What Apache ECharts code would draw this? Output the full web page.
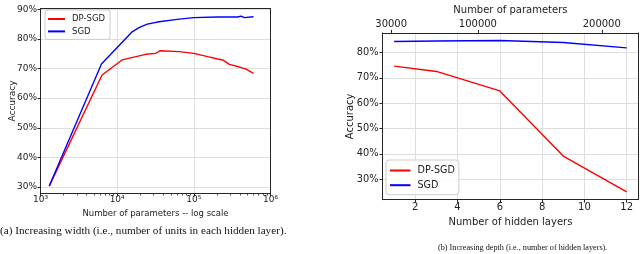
<!DOCTYPE html>
<html><head><meta charset="utf-8">
<script src="https://cdn.jsdelivr.net/npm/echarts@6/dist/echarts.min.js"></script>
<style>html,body{margin:0;padding:0;background:#fff}#c{width:640px;height:254px}</style>
</head><body><div id="c"></div>
<script>
// ---- data: (a) increasing width ----
const widthSgdParams = [1300, 6240, 15700, 19200, 24700, 35200, 64500, 100000, 200000, 372000, 414000, 457000, 600000];
const widthSgdAcc    = [30.3, 71.5, 82.4, 83.8, 85.0, 85.8, 86.7, 87.2, 87.4, 87.4, 87.7, 87.2, 87.5];
const widthDpParams  = [1300, 6350, 11600, 23500, 31700, 36000, 64500, 100000, 151000, 205000, 238000, 291000, 394000, 479000, 600000];
const widthDpAcc     = [30.3, 67.8, 72.9, 74.8, 75.1, 76.0, 75.7, 75.1, 74.0, 73.2, 72.9, 71.4, 70.5, 69.8, 68.4];
const widthXTicks = [1e3, 1e4, 1e5, 1e6];
const widthXMinorTicks = [2e3,3e3,4e3,5e3,6e3,7e3,8e3,9e3,2e4,3e4,4e4,5e4,6e4,7e4,8e4,9e4,2e5,3e5,4e5,5e5,6e5,7e5,8e5,9e5];
const widthYTicks = [30, 40, 50, 60, 70, 80, 90];

// ---- data: (b) increasing depth ----
const depthLayers = [1, 3, 6, 9, 12];
const depthDpAcc  = [74.6, 72.5, 64.8, 39.1, 25.0];
const depthSgdAcc = [84.3, 84.5, 84.7, 83.9, 81.8];
const depthXTicks = [2, 4, 6, 8, 10, 12];
const depthYTicks = [30, 40, 50, 60, 70, 80];
const paramTicks  = [30000, 100000, 200000];

const names = ['DP-SGD', 'SGD'];
const RED = '#ff0000', BLUE = '#0000ff';
const FONT = 'DejaVu Sans';
const GRIDC = '#dedede', FRAMEC = '#262626';
const sup = {'3':'\u00b3','4':'\u2074','5':'\u2075','6':'\u2076'};

const zip = (a, b) => a.map((v, i) => [v, b[i]]);

function frameAxis(extra) {
  return Object.assign({
    axisLine: {show: true, onZero: false, lineStyle: {color: FRAMEC, width: 1}},
    axisTick: {show: false}, axisLabel: {show: false}, splitLine: {show: false}, z: 5
  }, extra);
}

const chart = echarts.init(document.getElementById('c'), null, {renderer: 'canvas'});
chart.setOption({
  animation: false,
  textStyle: {fontFamily: FONT},
  grid: [
    {left: 40.5, top: 8.5, width: 230, height: 185},
    {left: 382.5, top: 22.7, width: 255.8, height: 177}
  ],
  xAxis: [
    { // 0: log params (a)
      type: 'log', logBase: 10, gridIndex: 0, min: 1e3, max: 1e6, position: 'bottom',
      axisLine: {show: true, onZero: false, lineStyle: {color: FRAMEC}},
      axisTick: {show: true, length: 3, lineStyle: {color: FRAMEC}, customValues: widthXTicks},
      axisLabel: {show: true, margin: 2, fontSize: 9, color: '#222', fontFamily: FONT,
        customValues: widthXTicks,
        formatter: v => '10' + sup[String(Math.round(Math.log10(v)))]},
      splitLine: {show: true, lineStyle: {color: GRIDC, width: 1}},
      name: 'Number of parameters -- log scale', nameLocation: 'middle', nameGap: 11,
      nameTextStyle: {fontSize: 8.5, color: '#222', fontFamily: FONT, verticalAlign: 'top'}
    },
    { // 1: minor ticks (a)
      type: 'log', logBase: 10, gridIndex: 0, min: 1e3, max: 1e6, position: 'bottom',
      axisLine: {show: false},
      axisTick: {show: true, length: 2, lineStyle: {color: FRAMEC, width: 0.8}, customValues: widthXMinorTicks},
      axisLabel: {show: false}, splitLine: {show: false}
    },
    frameAxis({type: 'value', gridIndex: 0, min: 0, max: 1, position: 'top'}), // 2
    { // 3: hidden layers (b)
      type: 'value', gridIndex: 1, min: 0.45, max: 12.55, position: 'bottom',
      axisLine: {show: true, onZero: false, lineStyle: {color: FRAMEC}},
      axisTick: {show: true, length: 3, lineStyle: {color: FRAMEC}, customValues: depthXTicks},
      axisLabel: {show: true, margin: 3, fontSize: 10, color: '#222', fontFamily: FONT, customValues: depthXTicks},
      splitLine: {show: true, lineStyle: {color: GRIDC, width: 1}},
      name: 'Number of hidden layers', nameLocation: 'middle', nameGap: 13,
      nameTextStyle: {fontSize: 10, color: '#222', fontFamily: FONT, verticalAlign: 'top'}
    },
    { // 4: number of parameters (b), top
      type: 'value', gridIndex: 1, min: 23000, max: 229500, position: 'top',
      axisLine: {show: true, onZero: false, lineStyle: {color: FRAMEC}},
      axisTick: {show: true, length: 3, lineStyle: {color: FRAMEC}, customValues: paramTicks},
      axisLabel: {show: true, margin: 3, fontSize: 10, color: '#222', fontFamily: FONT, customValues: paramTicks,
        formatter: v => String(v)},
      splitLine: {show: false},
      name: 'Number of parameters', nameLocation: 'middle', nameGap: 12,
      nameTextStyle: {fontSize: 10, color: '#222', fontFamily: FONT, verticalAlign: 'bottom'},
      z: 5
    }
  ],
  yAxis: [
    { // 0: accuracy (a)
      type: 'value', gridIndex: 0, min: 27.8, max: 90.27, position: 'left',
      axisLine: {show: true, onZero: false, lineStyle: {color: FRAMEC}},
      axisTick: {show: true, length: 3, lineStyle: {color: FRAMEC}, customValues: widthYTicks},
      axisLabel: {show: true, margin: 3.5, fontSize: 9, color: '#222', fontFamily: FONT,
        customValues: widthYTicks, formatter: '{value}%'},
      splitLine: {show: true, lineStyle: {color: GRIDC, width: 1}},
      name: 'Accuracy', nameLocation: 'middle', nameGap: 23.5, nameMoveOverlap: false,
      nameTextStyle: {fontSize: 9, color: '#222', fontFamily: FONT}
    },
    frameAxis({type: 'value', gridIndex: 0, min: 0, max: 1, position: 'right'}), // 1
    { // 2: accuracy (b)
      type: 'value', gridIndex: 1, min: 21.9, max: 87.7, position: 'left',
      axisLine: {show: true, onZero: false, lineStyle: {color: FRAMEC}},
      axisTick: {show: true, length: 3, lineStyle: {color: FRAMEC}, customValues: depthYTicks},
      axisLabel: {show: true, margin: 4, fontSize: 9.8, color: '#222', fontFamily: FONT,
        customValues: depthYTicks, formatter: '{value}%'},
      splitLine: {show: true, lineStyle: {color: GRIDC, width: 1}},
      name: 'Accuracy', nameLocation: 'middle', nameGap: 27.5, nameMoveOverlap: false,
      nameTextStyle: {fontSize: 10, color: '#222', fontFamily: FONT}
    },
    frameAxis({type: 'value', gridIndex: 1, min: 0, max: 1, position: 'right'}) // 3
  ],
  legend: [
    {
      orient: 'vertical', left: 45, top: 10, padding: [4, 5, 3, 3], itemGap: 2.4,
      itemWidth: 17, itemHeight: 2, icon: 'rect',
      backgroundColor: 'rgba(255,255,255,0.85)', borderColor: '#cccccc', borderWidth: 1, borderRadius: 3,
      textStyle: {fontSize: 8.5, color: '#222', fontFamily: FONT, lineHeight: 10, padding: [0,0,0,2]},
      data: names
    },
    {
      orient: 'vertical', left: 386, top: 160, padding: [5, 4, 4, 4], itemGap: 3.7,
      itemWidth: 20.5, itemHeight: 2, icon: 'rect',
      backgroundColor: 'rgba(255,255,255,0.85)', borderColor: '#cccccc', borderWidth: 1, borderRadius: 3,
      textStyle: {fontSize: 9.6, color: '#222', fontFamily: FONT, lineHeight: 11, padding: [0,0,0,2]},
      data: names
    }
  ],
  series: [
    {name: 'DP-SGD', type: 'line', xAxisIndex: 0, yAxisIndex: 0, data: zip(widthDpParams, widthDpAcc),
     showSymbol: false, color: RED, lineStyle: {color: RED, width: 1.4}, z: 3},
    {name: 'SGD', type: 'line', xAxisIndex: 0, yAxisIndex: 0, data: zip(widthSgdParams, widthSgdAcc),
     showSymbol: false, color: BLUE, lineStyle: {color: BLUE, width: 1.4}, z: 3},
    {name: 'DP-SGD', type: 'line', xAxisIndex: 3, yAxisIndex: 2, data: zip(depthLayers, depthDpAcc),
     showSymbol: false, color: RED, lineStyle: {color: RED, width: 1.4}, z: 3},
    {name: 'SGD', type: 'line', xAxisIndex: 3, yAxisIndex: 2, data: zip(depthLayers, depthSgdAcc),
     showSymbol: false, color: BLUE, lineStyle: {color: BLUE, width: 1.4}, z: 3}
  ],
  graphic: [
    {type: 'text', left: 0, top: 226, style: {text: '(a) Increasing width (i.e., number of units in each hidden layer).',
      font: '11.2px "Liberation Serif"', fill: '#111'}},
    {type: 'text', left: 438, top: 243.5, style: {text: '(b) Increasing depth (i.e., number of hidden layers).',
      font: '8.2px "Liberation Serif"', fill: '#111'}}
  ]
});
</script></body></html>
